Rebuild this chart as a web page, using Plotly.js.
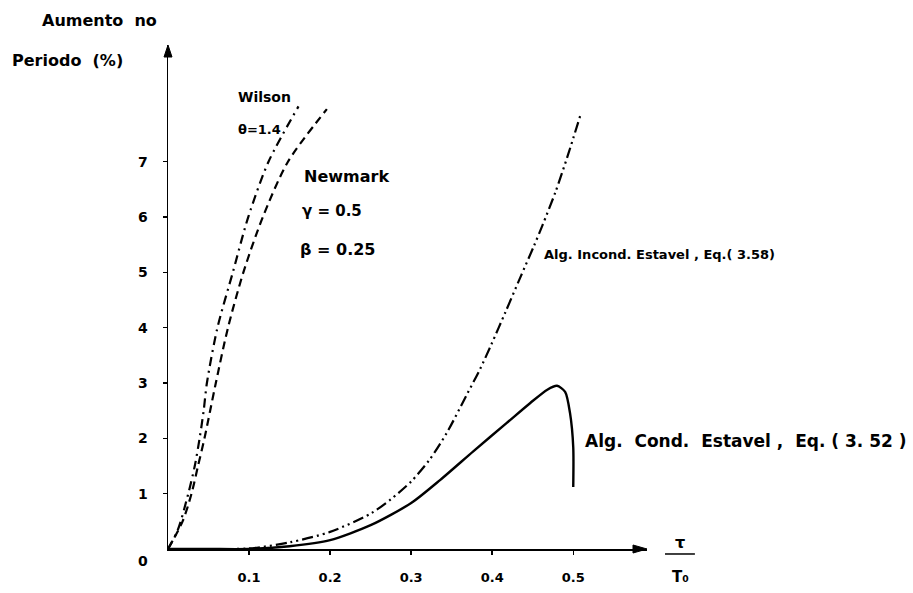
<!DOCTYPE html>
<html>
<head>
<meta charset="utf-8">
<script src="https://cdn.plot.ly/plotly-3.0.1.min.js"></script>
<style>html,body{margin:0;padding:0;background:#fff;}#chart{width:913px;height:593px;}</style>
</head>
<body>
<div id="chart"></div>
<script>
// Wilson theta = 1.4 (dash-dot)
const wilsonX = [0, 0.012, 0.025, 0.033, 0.039, 0.044, 0.048, 0.061, 0.080, 0.099, 0.124, 0.161];
const wilsonY = [0, 0.34, 1.0, 1.5, 2.0, 2.5, 3.0, 4.0, 5.0, 6.0, 7.0, 8.0];
// Newmark gamma=0.5 beta=0.25 (dashed)
const newmarkX = [0, 0.018, 0.029, 0.037, 0.045, 0.052, 0.059, 0.074, 0.093, 0.117, 0.148, 0.196];
const newmarkY = [0, 0.5, 1.0, 1.5, 2.0, 2.5, 3.0, 4.0, 5.0, 6.0, 7.0, 7.95];
// Alg. Incond. Estavel (dash-dot-dot)
const incondX = [0, 0.05, 0.1, 0.15, 0.2, 0.25, 0.275, 0.3, 0.323, 0.344, 0.369, 0.385, 0.399, 0.416, 0.435, 0.451, 0.462, 0.478, 0.493, 0.509];
const incondY = [0, 0, 0.01, 0.12, 0.31, 0.64, 0.9, 1.22, 1.62, 2.1, 2.8, 3.25, 3.7, 4.27, 4.92, 5.46, 5.85, 6.45, 7.1, 7.85];
// Alg. Cond. Estavel (solid)
const condX = [0, 0.05, 0.1, 0.15, 0.2, 0.25, 0.3, 0.336, 0.377, 0.418, 0.447, 0.468, 0.48, 0.49, 0.496, 0.5, 0.5];
const condY = [0, 0, 0, 0.05, 0.16, 0.43, 0.83, 1.25, 1.77, 2.28, 2.64, 2.88, 2.95, 2.84, 2.46, 1.84, 1.12];

const xTickVals = [0.1, 0.2, 0.3, 0.4, 0.5];
const xTickText = ['0.1', '0.2', '0.3', '0.4', '0.5'];
const yTickVals = [1, 2, 3, 4, 5, 6, 7];
const yTickText = ['1', '2', '3', '4', '5', '6', '7'];

const FONT = 'DejaVu Sans, Liberation Sans, Arial, sans-serif';
const black = '#000';

const traces = [
  {x: wilsonX, y: wilsonY, mode: 'lines', line: {color: black, width: 2.2, dash: '9px,5px,2px,5px', shape: 'spline', smoothing: 0.8}, hoverinfo: 'skip'},
  {x: newmarkX, y: newmarkY, mode: 'lines', line: {color: black, width: 2.2, dash: '8px,5px', shape: 'spline', smoothing: 0.8}, hoverinfo: 'skip'},
  {x: incondX, y: incondY, mode: 'lines', line: {color: black, width: 2.2, dash: '11px,4px,2px,4px,2px,4px', shape: 'spline', smoothing: 0.8}, hoverinfo: 'skip'},
  {x: condX, y: condY, mode: 'lines', line: {color: black, width: 2.4, shape: 'spline', smoothing: 0.7}, hoverinfo: 'skip'}
];

function txt(text, x, y, size, xanchor, ref) {
  return {text: text, x: x, y: y, xref: ref || 'x', yref: ref || 'y', showarrow: false,
    xanchor: xanchor || 'left', yanchor: 'middle',
    font: {family: FONT, size: size || 13, color: black, weight: 'bold'}};
}

const annotations = [
  txt('Aumento  no', -0.267, 1.0496, 16, 'left', 'paper'),
  txt('Periodo  (%)', -0.330, 0.970, 16, 'left', 'paper'),
  txt('0', -0.052, -0.0238, 14, 'center', 'paper'),
  txt('τ', 1.069, 0.0135, 16, 'center', 'paper'),
  txt('T₀', 1.069, -0.0556, 15, 'center', 'paper'),
  txt('Wilson', 0.084, 8.17, 14),
  txt('θ=1.4', 0.084, 7.58, 13),
  txt('Newmark', 0.165, 6.74, 16),
  txt('γ = 0.5', 0.163, 6.11, 15),
  txt('β = 0.25', 0.160, 5.42, 16),
  txt('Alg. Incond. Estavel , Eq.( 3.58)', 0.462, 5.33, 13),
  txt('Alg.  Cond.  Estavel ,  Eq. ( 3. 52 )', 0.512, 1.95, 17)
];

// arrowheads in paper units (tip at axis ends)
const ax = 4 / 479, ay = 4 / 504;
const layout = {
  width: 913, height: 593,
  margin: {l: 168, r: 266, t: 45, b: 44},
  paper_bgcolor: '#fff', plot_bgcolor: '#fff',
  showlegend: false,
  xaxis: {range: [0, 0.591], showline: true, linecolor: black, linewidth: 1.5, zeroline: false,
    showgrid: false, ticks: 'outside', ticklen: 4, tickwidth: 1.5, tickcolor: black,
    tickvals: xTickVals, ticktext: xTickText, ticklabelstandoff: 12,
    tickfont: {family: FONT, size: 13, color: black, weight: 'bold'}, fixedrange: true},
  yaxis: {range: [0, 9.11], showline: true, linecolor: black, linewidth: 1.5, zeroline: false,
    showgrid: false, ticks: 'outside', ticklen: 4, tickwidth: 1.5, tickcolor: black,
    tickvals: yTickVals, ticktext: yTickText, ticklabelstandoff: 12,
    tickfont: {family: FONT, size: 14, color: black, weight: 'bold'}, fixedrange: true},
  shapes: [
    {type: 'line', xref: 'paper', yref: 'paper', x0: 1.0376, x1: 1.100, y0: -0.0099, y1: -0.0099,
     line: {color: black, width: 1.5}},
    {type: 'path', xref: 'paper', yref: 'paper',
     path: 'M 0 1.0 L ' + (-ax) + ' ' + (1 - 3 * ay) + ' L ' + ax + ' ' + (1 - 3 * ay) + ' Z',
     fillcolor: black, line: {color: black, width: 1}},
    {type: 'path', xref: 'paper', yref: 'paper',
     path: 'M 1.0 0 L ' + (1 - 3.5 * ax) + ' ' + (-ay) + ' L ' + (1 - 3.5 * ax) + ' ' + ay + ' Z',
     fillcolor: black, line: {color: black, width: 1}}
  ],
  annotations: annotations
};

Plotly.newPlot('chart', traces, layout, {staticPlot: true, displayModeBar: false});
</script>
</body>
</html>
